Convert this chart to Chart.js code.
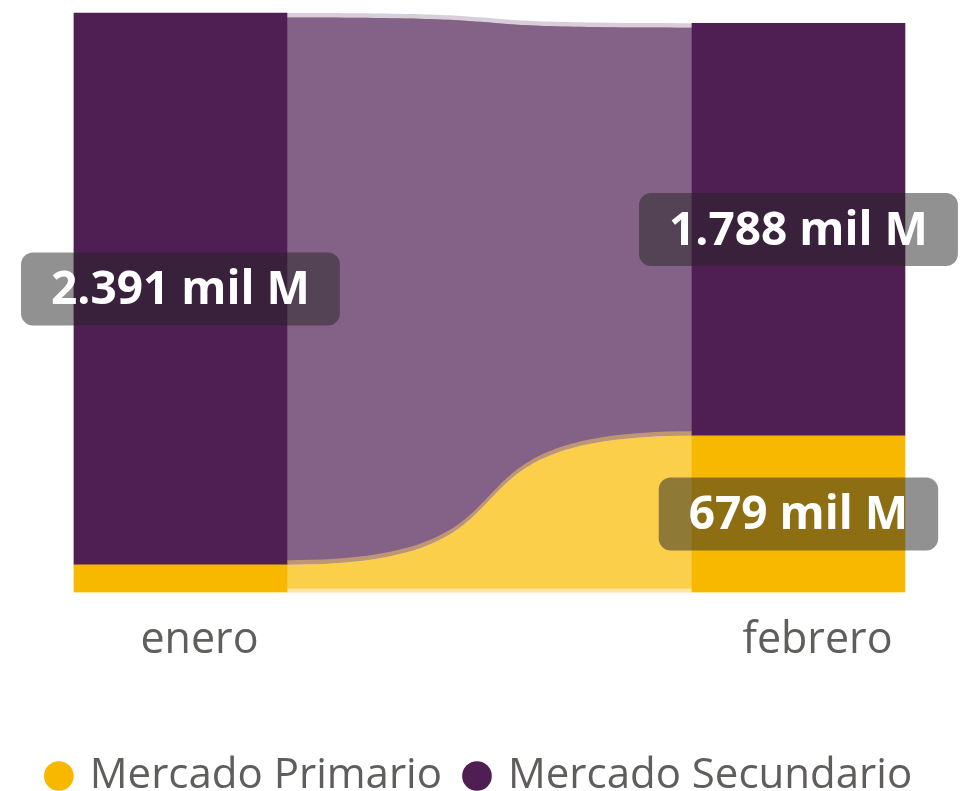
<!DOCTYPE html>
<html lang="es">
<head>
<meta charset="utf-8">
<script src="https://cdn.jsdelivr.net/npm/chart.js@4"></script>
<style>
  html, body { margin: 0; padding: 0; background: #fff; overflow: hidden; }
  #wrap { position: relative; width: 961px; height: 807px; }
</style>
</head>
<body>
<div id="wrap"><canvas id="ribbon-chart"></canvas></div>
<script>
  const months = ['enero', 'febrero'];
  const seriesNames = ['Mercado Primario', 'Mercado Secundario'];
  const primario = [120, 679];
  const secundario = [2391, 1788];

  const barColors = ['#F9B800', '#4F1E52'];
  // ribbon layers per series: full shape first, then inset shapes on top
  const ribbonLayers = [
    [{ top: 0, bottom: 0, color: '#FDE6A2' }, { top: 0, bottom: 4, color: '#FBCF4A' }],
    [{ top: 0, bottom: 0, color: '#D8CDDA' }, { top: 4.5, bottom: 0, color: '#BF9672' }, { top: 4.5, bottom: 4.5, color: '#846287' }]
  ];

  function fmt(v) {
    return String(v).replace(/\B(?=(\d{3})+(?!\d))/g, '.') + ' mil M';
  }

  function ribbonPath(ctx, x0, x1, t0, b0, t1, b1) {
    const k = 0.7 * (x1 - x0);
    ctx.beginPath();
    ctx.moveTo(x0, t0);
    ctx.bezierCurveTo(x0 + k, t0, x1 - k, t1, x1, t1);
    ctx.lineTo(x1, b1);
    ctx.bezierCurveTo(x1 - k, b1, x0 + k, b0, x0, b0);
    ctx.closePath();
  }

  const ribbonPlugin = {
    id: 'ribbons',
    beforeDatasetsDraw(chart) {
      const ctx = chart.ctx;
      ctx.save();
      chart.data.datasets.forEach((ds, i) => {
        const els = chart.getDatasetMeta(i).data;
        for (let j = 0; j < els.length - 1; j++) {
          const a = els[j], b = els[j + 1];
          const x0 = a.x + a.width / 2, x1 = b.x - b.width / 2;
          ribbonLayers[i].forEach(l => {
            ribbonPath(ctx, x0, x1, a.y + l.top, a.base - l.bottom, b.y + l.top, b.base - l.bottom);
            ctx.fillStyle = l.color;
            ctx.fill();
          });
        }
      });
      ctx.restore();
    }
  };

  const labelPlugin = {
    id: 'valueLabels',
    afterDatasetsDraw(chart) {
      const ctx = chart.ctx;
      ctx.save();
      ctx.font = 'bold 46px "Open Sans"';
      ctx.textAlign = 'center';
      ctx.textBaseline = 'middle';
      chart.data.datasets.forEach((ds, i) => {
        chart.getDatasetMeta(i).data.forEach((el, j) => {
          if (el.base - el.y < 80) return;
          const text = fmt(ds.data[j].y);
          const w = ctx.measureText(text).width + 60;
          const h = 73;
          const cx = el.x, cy = (el.y + el.base) / 2;
          ctx.fillStyle = 'rgba(36,36,36,0.5)';
          ctx.beginPath();
          ctx.roundRect(cx - w / 2, cy - h / 2, w, h, 12);
          ctx.fill();
          ctx.fillStyle = '#ffffff';
          ctx.fillText(text, cx, cy + 2);
        });
      });
      ctx.restore();
    }
  };

  const ctx = document.getElementById('ribbon-chart').getContext('2d');
  new Chart(ctx, {
    type: 'bar',
    data: {
      datasets: [
        { label: seriesNames[0], data: primario.map((v, i) => ({ x: i, y: v })), backgroundColor: barColors[0] },
        { label: seriesNames[1], data: secundario.map((v, i) => ({ x: i, y: v })), backgroundColor: barColors[1] }
      ]
    },
    options: {
      responsive: true,
      maintainAspectRatio: false,
      animation: false,
      barThickness: 213,
      layout: { padding: { top: 11, left: 0, right: 0, bottom: 0 } },
      scales: {
        x: {
          type: 'linear',
          stacked: true,
          offset: false,
          min: -0.292,
          max: 1.263,
          grid: { display: false, drawTicks: false, offset: false },
          border: { display: false },
          afterBuildTicks: s => { s.ticks = months.map((m, i) => ({ value: i })); },
          afterFit: s => { s.height += 40; },
          ticks: {
            callback: v => months[v],
            labelOffset: 19,
            padding: 23,
            maxRotation: 0,
            autoSkip: false,
            color: '#605E5C',
            font: { family: 'Open Sans', size: 43 }
          }
        },
        y: { stacked: true, min: 0, max: 2520, display: false }
      },
      plugins: {
        legend: {
          position: 'bottom',
          labels: {
            usePointStyle: true,
            pointStyle: 'circle',
            boxWidth: 20,
            boxHeight: 21,
            padding: 25,
            color: '#605E5C',
            font: { family: 'Open Sans', size: 42 }
          }
        },
        tooltip: { enabled: false }
      }
    },
    plugins: [ribbonPlugin, labelPlugin]
  });
</script>
</body>
</html>
